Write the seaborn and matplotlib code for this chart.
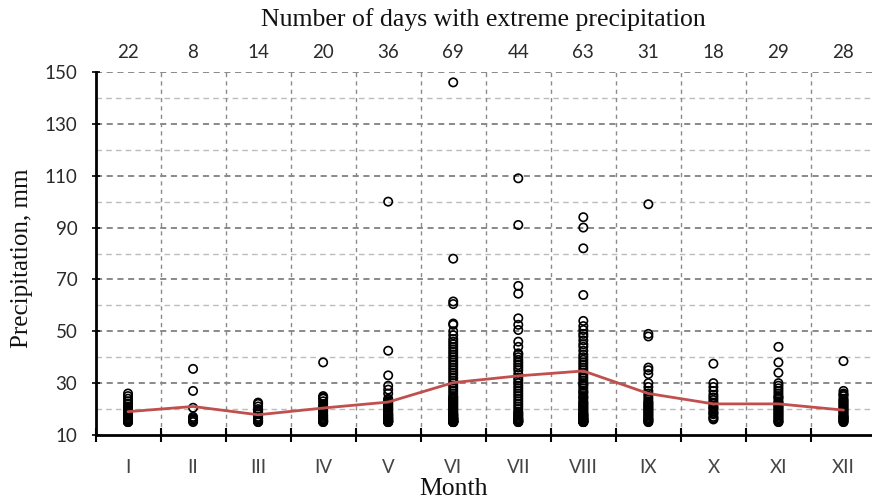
import numpy as np
import pandas as pd
import matplotlib
matplotlib.use("Agg")
import matplotlib.pyplot as plt
import seaborn as sns

months = ["I", "II", "III", "IV", "V", "VI", "VII", "VIII", "IX", "X", "XI", "XII"]
days = [22, 8, 14, 20, 36, 69, 44, 63, 31, 18, 29, 28]
mean_precip = [19, 21, 17.8, 20.4, 22.7, 30.2, 32.8, 34.7, 26, 22, 22, 19.6]

p_I = [26, 25, 24, 23, 22, 21, 20.5, 20, 19.5, 19, 18.5, 18, 17.5, 17, 16.5, 16, 16, 15.5, 15.5, 15, 15, 15]
p_II = [35.5, 27, 20.5, 17, 16.5, 16, 15.5, 15]
p_III = [22.5, 22, 21, 20, 19.5, 19, 18.5, 18, 17, 16.5, 16, 15.5, 15, 15]
p_IV = [38, 25, 24.5, 24, 23, 22, 21, 20.5, 20, 19.5, 19, 18, 17.5, 17, 16.5, 16, 15.5, 15.5, 15, 15]
p_V = [100, 42.5, 33, 29, 27.5, 26, 24, 23.5, 23, 22.5, 22, 21.5, 21, 20.5, 20, 19.5, 19, 18.5,
       18, 18, 17.5, 17.5, 17, 17, 16.5, 16.5, 16, 16, 16, 15.5, 15.5, 15.5, 15, 15, 15, 15]
p_VI = [146, 78, 61.5, 60.5, 53, 52.5, 50, 48.5, 47, 46, 45, 44, 43, 42, 41, 40, 39, 38, 37, 36,
        35, 34, 33, 32, 31, 30, 29, 28, 27, 26, 25, 24.5, 24, 23.5, 23, 22.5, 22, 21.5, 21, 20.5,
        20, 19.5, 19, 18.5, 18, 18, 17.5, 17.5, 17, 17, 16.5, 16.5, 16.5, 16, 16, 16, 16, 15.5,
        15.5, 15.5, 15.5, 15, 15, 15, 15, 15, 15, 15, 15]
p_VII = [109, 91, 67.5, 64.5, 55, 52.5, 50.5, 46, 44, 41.5, 41, 40, 39, 38, 37, 36, 35, 33.5, 32, 31,
         30, 29, 28, 27, 26, 25, 24, 23, 22, 21, 20, 19, 18.5, 18, 17.5, 17, 16.5, 16, 16, 15.5,
         15.5, 15, 15, 15]
p_VIII = [94, 90, 82, 64, 54, 52, 50.5, 49, 48, 46.5, 45, 44, 42.5, 41, 40, 39, 38, 37, 36, 35,
          34, 33, 32, 31, 30, 29.5, 29, 28, 27, 26.5, 26, 25, 24.5, 24, 23, 22.5, 22, 21.5, 21, 20.5,
          20, 19.5, 19, 18.5, 18, 18, 17.5, 17.5, 17, 17, 16.5, 16.5, 16, 16, 16, 15.5, 15.5, 15.5,
          15, 15, 15, 15, 15]
p_IX = [99, 49, 48, 36, 35, 33.5, 30, 28.5, 27, 26, 25, 24, 23, 22.5, 22, 21.5, 21, 20.5, 20, 19.5,
        19, 18.5, 18, 17.5, 17, 16.5, 16, 16, 15.5, 15, 15]
p_X = [37.5, 30, 28.5, 27, 25.5, 24.5, 23.5, 22.5, 22, 21, 20.5, 20, 19, 18.5, 18, 17, 16.5, 16]
p_XI = [44, 38, 34, 30, 29, 28, 27, 26, 25, 24.5, 24, 23, 22.5, 22, 21.5, 21, 20.5, 20, 19.5, 19,
        18.5, 18, 17.5, 17, 16.5, 16, 15.5, 15, 15]
p_XII = [38.5, 27, 26, 25.5, 25, 24, 23.5, 23, 22.5, 22, 21.5, 21, 20.5, 20, 19.5, 19, 18.5, 18,
         17.5, 17, 17, 16.5, 16.5, 16, 16, 15.5, 15, 15]

all_points = [p_I, p_II, p_III, p_IV, p_V, p_VI, p_VII, p_VIII, p_IX, p_X, p_XI, p_XII]

rows = []
for i, vals in enumerate(all_points):
    for v in vals:
        rows.append({"pos": i, "precip": v})
df = pd.DataFrame(rows)
line_df = pd.DataFrame({"pos": list(range(len(months))), "mean": mean_precip})

sns.set_theme(style="white")
plt.rcParams["font.family"] = ["Liberation Serif", "DejaVu Sans"]

fig = plt.figure(figsize=(8.72, 5.03), dpi=100)
ax = fig.add_axes([95.5 / 872, 68 / 503, (876 - 95.5) / 872, 363 / 503])

# grid
for y in range(20, 150, 20):
    ax.axhline(y, color="#bcbcbc", lw=1.0, ls=(0, (4, 3)), zorder=0)
for y in range(30, 151, 20):
    ax.axhline(y, color="#6a6a6a", lw=1.1, ls=(0, (4, 3)), zorder=0)
for x in np.arange(0.5, 11.6, 1):
    ax.axvline(x, color="#8a8a8a", lw=1.0, ls=(0, (3, 3)), zorder=0)

sns.scatterplot(data=df, x="pos", y="precip", ax=ax, marker="o", s=36,
                facecolors="none", edgecolors="black", linewidth=1.2, zorder=3)
sns.lineplot(data=line_df, x="pos", y="mean", ax=ax, color="#c0504d", lw=2, zorder=4)

ax.set_xlim(-0.5, 11.5)
ax.set_ylim(10, 150)

tick_font = dict(family="Lato", fontsize=13.5, color="#2a2a2a")
ax.set_yticks(range(10, 151, 20))
ax.set_yticklabels([str(v) for v in range(10, 151, 20)], **tick_font)
ax.tick_params(axis="y", which="major", direction="inout", length=6, width=1.2, color="black", left=True, pad=10)

ax.set_xticks(np.arange(-0.5, 11.6, 1))
ax.set_xticklabels([])
ax.tick_params(axis="x", which="major", direction="inout", length=10, width=1.5, color="black", bottom=True)
ax.set_xticks(range(len(months)), minor=True)
ax.set_xticklabels(months, minor=True, family="Lato", fontsize=13.5, color="#444444")
ax.tick_params(axis="x", which="minor", length=0, pad=17)

for s in ["top", "right"]:
    ax.spines[s].set_visible(False)
ax.spines["left"].set_color("black")
ax.spines["left"].set_linewidth(2)
ax.spines["bottom"].set_color("black")
ax.spines["bottom"].set_linewidth(2)
ax.set_xlabel("")
ax.set_ylabel("")

# top axis with number of days
ax2 = ax.secondary_xaxis("top")
ax2.set_xticks(range(len(months)))
ax2.set_xticklabels([str(d) for d in days], **tick_font)
ax2.tick_params(length=0, pad=8)
ax2.spines["top"].set_visible(False)

fig.text(483 / 872, 1 - 20 / 503, "Number of days with extreme precipitation",
         ha="center", va="center", fontsize=18.5, color="#111111")
fig.text(454 / 872, 1 - 489 / 503, "Month", ha="center", va="center", fontsize=18.5, color="#111111")
fig.text(22 / 872, 1 - 258 / 503, "Precipitation, mm", ha="center", va="center",
         rotation=90, fontsize=18, color="#111111")

fig.savefig("out.png", dpi=100)
